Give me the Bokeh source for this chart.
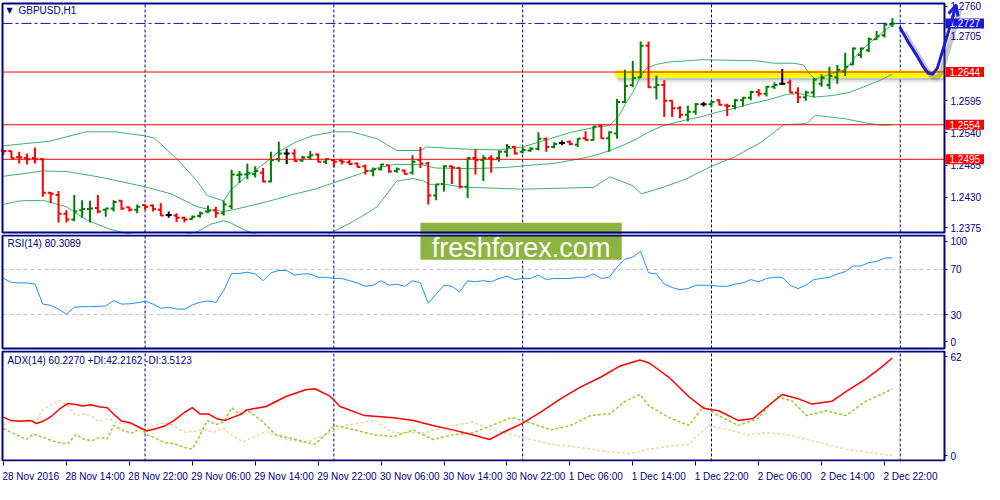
from bokeh.plotting import figure
from bokeh.models import (Range1d, FixedTicker, Label, Arrow, OpenHead,
                          LinearAxis, ColumnDataSource)
from bokeh.layouts import column
from bokeh.embed import file_html
from bokeh.resources import INLINE

# ---------------- data ----------------
OPEN = [1.2510, 1.2509, 1.2499, 1.2497, 1.2497, 1.2495, 1.2438, 1.2434, 1.2402, 1.2392,
        1.2408, 1.2410, 1.2412, 1.2409, 1.2411, 1.2424, 1.2413, 1.2409, 1.2417, 1.2416,
        1.2409, 1.2400, 1.2399, 1.2395, 1.2393, 1.2398, 1.2406, 1.2408, 1.2403, 1.2415,
        1.2468, 1.2469, 1.2470, 1.2472, 1.2457, 1.2495, 1.2505, 1.2505, 1.2493, 1.2499,
        1.2503, 1.2491, 1.2494, 1.2493, 1.2490, 1.2488, 1.2483, 1.2475, 1.2478, 1.2485,
        1.2475, 1.2476, 1.2472, 1.2494, 1.2488, 1.2433, 1.2453, 1.2483, 1.2480, 1.2448,
        1.2497, 1.2494, 1.2497, 1.2497, 1.2508, 1.2516, 1.2508, 1.2510, 1.2513, 1.2530,
        1.2516, 1.2523, 1.2525, 1.2520, 1.2531, 1.2528, 1.2552, 1.2531, 1.2539, 1.2593,
        1.2622, 1.2635, 1.2689, 1.2618, 1.2622, 1.2595, 1.2582, 1.2571, 1.2576, 1.2589,
        1.2589, 1.2596, 1.2587, 1.2586, 1.2596, 1.2600, 1.2610, 1.2607, 1.2619, 1.2624,
        1.2626, 1.2609, 1.2601, 1.2609, 1.2624, 1.2622, 1.2635, 1.2645, 1.2657, 1.2673,
        1.2681, 1.2700, 1.2707, 1.2725]
HIGH = [1.2511, 1.2510, 1.2508, 1.2505, 1.2515, 1.2497, 1.2439, 1.2441, 1.2408, 1.2434,
        1.2425, 1.2424, 1.2434, 1.2411, 1.2425, 1.2425, 1.2414, 1.2418, 1.2418, 1.2418,
        1.2420, 1.2406, 1.2403, 1.2397, 1.2399, 1.2406, 1.2416, 1.2414, 1.2424, 1.2477,
        1.2475, 1.2488, 1.2483, 1.2480, 1.2508, 1.2525, 1.2513, 1.2512, 1.2501, 1.2509,
        1.2505, 1.2497, 1.2495, 1.2495, 1.2495, 1.2489, 1.2486, 1.2481, 1.2487, 1.2486,
        1.2481, 1.2477, 1.2502, 1.2516, 1.2491, 1.2453, 1.2485, 1.2484, 1.2481, 1.2498,
        1.2512, 1.2502, 1.2502, 1.2510, 1.2521, 1.2518, 1.2516, 1.2516, 1.2541, 1.2532,
        1.2524, 1.2527, 1.2527, 1.2531, 1.2543, 1.2552, 1.2554, 1.2543, 1.2598, 1.2648,
        1.2663, 1.2696, 1.2696, 1.2638, 1.2630, 1.2596, 1.2586, 1.2587, 1.2591, 1.2593,
        1.2595, 1.2597, 1.2590, 1.2598, 1.2601, 1.2612, 1.2615, 1.2620, 1.2626, 1.2649,
        1.2631, 1.2618, 1.2612, 1.2634, 1.2640, 1.2653, 1.2656, 1.2677, 1.2686, 1.2686,
        1.2703, 1.2714, 1.2728, 1.2736]
LOW = [1.2503, 1.2497, 1.2488, 1.2486, 1.2488, 1.2431, 1.2420, 1.2387, 1.2387, 1.2389,
       1.2395, 1.2387, 1.2403, 1.2397, 1.2406, 1.2409, 1.2406, 1.2403, 1.2409, 1.2406,
       1.2398, 1.2395, 1.2388, 1.2387, 1.2392, 1.2395, 1.2403, 1.2395, 1.2399, 1.2410,
       1.2455, 1.2461, 1.2464, 1.2456, 1.2456, 1.2491, 1.2487, 1.2491, 1.2491, 1.2494,
       1.2490, 1.2487, 1.2481, 1.2486, 1.2485, 1.2481, 1.2469, 1.2466, 1.2476, 1.2472,
       1.2472, 1.2469, 1.2469, 1.2480, 1.2418, 1.2425, 1.2440, 1.2453, 1.2445, 1.2429,
       1.2469, 1.2458, 1.2472, 1.2491, 1.2499, 1.2503, 1.2505, 1.2508, 1.2510, 1.2508,
       1.2514, 1.2519, 1.2519, 1.2516, 1.2527, 1.2527, 1.2530, 1.2508, 1.2530, 1.2591,
       1.2618, 1.2634, 1.2617, 1.2597, 1.2567, 1.2567, 1.2565, 1.2560, 1.2571, 1.2585,
       1.2585, 1.2587, 1.2569, 1.2580, 1.2585, 1.2596, 1.2602, 1.2602, 1.2615, 1.2622,
       1.2608, 1.2591, 1.2595, 1.2601, 1.2619, 1.2615, 1.2624, 1.2637, 1.2656, 1.2668,
       1.2678, 1.2699, 1.2703, 1.2721]
CLOSE = [1.2509, 1.2497, 1.2498, 1.2495, 1.2495, 1.2438, 1.2436, 1.2402, 1.2392, 1.2406,
         1.2410, 1.2411, 1.2406, 1.2411, 1.2422, 1.2411, 1.2409, 1.2414, 1.2414, 1.2410,
         1.2399, 1.2400, 1.2395, 1.2392, 1.2397, 1.2403, 1.2407, 1.2403, 1.2418, 1.2469,
         1.2469, 1.2472, 1.2475, 1.2457, 1.2494, 1.2505, 1.2505, 1.2492, 1.2498, 1.2502,
         1.2491, 1.2495, 1.2491, 1.2491, 1.2487, 1.2482, 1.2475, 1.2478, 1.2486, 1.2474,
         1.2478, 1.2470, 1.2491, 1.2488, 1.2433, 1.2452, 1.2483, 1.2481, 1.2448, 1.2497,
         1.2494, 1.2497, 1.2495, 1.2508, 1.2516, 1.2505, 1.2511, 1.2513, 1.2530, 1.2516,
         1.2521, 1.2523, 1.2521, 1.2530, 1.2528, 1.2551, 1.2531, 1.2541, 1.2593, 1.2620,
         1.2634, 1.2689, 1.2618, 1.2622, 1.2595, 1.2582, 1.2571, 1.2576, 1.2589, 1.2589,
         1.2593, 1.2588, 1.2586, 1.2596, 1.2600, 1.2610, 1.2607, 1.2619, 1.2622, 1.2624,
         1.2609, 1.2601, 1.2609, 1.2631, 1.2634, 1.2637, 1.2648, 1.2653, 1.2684, 1.2684,
         1.2700, 1.2705, 1.2725, 1.2727]

# Bollinger bands (bar position, price)
BB_UP_K = [0, 5.9, 10.5, 14.2, 18, 19.2, 22.1, 24.6, 25.9, 28, 28.8, 30.9, 33, 35, 37.1,
           39.2, 42, 44.2, 47.5, 50, 53, 53.8, 56.3, 59.6, 63, 65.9, 68, 72.1, 75, 77.1,
           78.2, 79.2, 80, 80.9, 81.7, 83, 84.6, 88.8, 92.9, 95.9, 97.9, 100.5, 101.7,
           102.5, 103.2, 105.5, 107.1, 108.8, 110.9, 113]
BB_UP = [1.2518, 1.2526, 1.2542, 1.2542, 1.2535, 1.2531, 1.2495, 1.2458, 1.2433, 1.2424,
         1.2441, 1.2466, 1.2486, 1.2508, 1.2524, 1.2535, 1.2542, 1.2542, 1.2530, 1.2510,
         1.2510, 1.2516, 1.2514, 1.2512, 1.2511, 1.2516, 1.2524, 1.2541, 1.2549, 1.2553,
         1.2568, 1.2593, 1.2609, 1.2634, 1.2650, 1.2657, 1.2661, 1.2665, 1.2664, 1.2663,
         1.2659, 1.2659, 1.2656, 1.2640, 1.2632, 1.2642, 1.2649, 1.2678, 1.2703, 1.2725]
BB_MID_K = [0, 5, 8, 12.1, 16.3, 18, 21.3, 24.6, 26.3, 28, 29.6, 33, 35, 37.1, 39.6, 42,
            45.5, 47.5, 49.6, 53, 55, 59.6, 63.8, 67.1, 70, 72.9, 75, 77.1, 78.8, 80.5,
            82.1, 83.8, 86.7, 88.8, 90.9, 92.9, 95, 97.1, 99.6, 101.3, 103, 105.5, 107.5,
            109.6, 111.3, 113]
BB_MID = [1.2466, 1.2475, 1.2474, 1.2465, 1.2453, 1.2448, 1.2436, 1.2414, 1.2409, 1.2406,
          1.2410, 1.2421, 1.2428, 1.2436, 1.2444, 1.2455, 1.2471, 1.2480, 1.2486, 1.2486,
          1.2480, 1.2479, 1.2481, 1.2485, 1.2488, 1.2495, 1.2501, 1.2510, 1.2519, 1.2530,
          1.2542, 1.2552, 1.2562, 1.2568, 1.2576, 1.2582, 1.2590, 1.2596, 1.2606, 1.2607,
          1.2601, 1.2604, 1.2609, 1.2620, 1.2629, 1.2640]
BB_LO_K = [0, 2.1, 5, 8, 10.5, 13.4, 15.5, 20, 24.6, 26.3, 28, 28.8, 30.5, 32.1, 36, 40,
           41.7, 43.8, 45.5, 47.5, 50, 52.1, 53.4, 54.2, 55.9, 58, 59.6, 65.9, 75, 77.1,
           80, 81.1, 83.8, 86.7, 90, 92.9, 96.3, 99.2, 102.1, 103.2, 104.6, 107.1, 109.6,
           111.7, 113]
BB_LO = [1.2418, 1.2424, 1.2425, 1.2414, 1.2392, 1.2376, 1.2369, 1.2358, 1.2371, 1.2384,
         1.2390, 1.2387, 1.2375, 1.2367, 1.2355, 1.2360, 1.2370, 1.2384, 1.2397, 1.2414,
         1.2458, 1.2462, 1.2458, 1.2452, 1.2453, 1.2448, 1.2447, 1.2444, 1.2447, 1.2465,
         1.2450, 1.2436, 1.2447, 1.2461, 1.2483, 1.2499, 1.2524, 1.2554, 1.2556, 1.2570,
         1.2568, 1.2564, 1.2557, 1.2553, 1.2554]

RSI = [62.1, 58.4, 58, 58, 57, 39.3, 38.2, 34.8, 30.5, 36.5,
       37, 37, 37.3, 37.6, 42.5, 39.3, 39.5, 40.5, 41.9, 39.3,
       35.6, 36.5, 35, 34.8, 38.5, 41, 42.1, 40.7, 51.3, 66.4,
       66.4, 67.5, 66, 60, 67, 69, 69, 65, 66, 66,
       63, 63, 62, 62, 60, 58, 55, 56, 60, 56,
       57, 55, 60, 58, 40, 48, 56, 55, 50, 60,
       59, 60, 59, 62, 64, 61, 62, 62, 65, 61,
       62, 62, 62, 63, 63, 66, 62, 63, 72, 79,
       81, 86, 67, 66, 57, 54, 52, 53, 56, 56,
       56, 55, 55, 57, 58, 61, 59, 62, 63, 63,
       56, 53, 56, 61, 62, 63, 66, 68, 73, 73,
       76, 77, 80, 80.3]

ADX_K = [0, 0.9, 2.1, 3.4, 4.2, 5, 6.1, 7.1, 8.2, 9.2, 10, 11.1, 12.1, 13.2, 14, 15, 16.1,
         17.1, 18.2, 19.2, 20.5, 21.7, 23, 24, 25, 26.1, 27.1, 28.2, 29.2, 30.3, 30.9, 33.4,
         35.9, 38.4, 39.6, 41.5, 42.8, 45.9, 49.6, 52.1, 54.6, 57.1, 59.6, 61.8, 63.4, 65.9,
         68.4, 70.9, 73.4, 75.9, 78.4, 80.9, 82.1, 84.6, 87.1, 89, 90.9, 93.4, 95.3, 97.1,
         99, 100.9, 102.8, 105.3, 107.1, 109.6, 111.5, 113]
ADX_V = [25.8, 23.9, 23.4, 23.9, 22.1, 23.4, 26.3, 30.4, 33.8, 33.2, 32.3, 33, 31.9, 31.3,
         27.6, 23.5, 22.6, 20.2, 17.8, 18.9, 20.6, 23.9, 28.5, 31.3, 27.6, 27.6, 24.9, 23.9,
         25.8, 27.6, 30, 32, 37.8, 41.7, 42.3, 38, 32, 26.7, 25.5, 23.9, 21, 18.4, 15.6, 12.8,
         16.7, 22, 29, 36.7, 43.4, 49, 55.6, 59, 57.3, 49, 37.8, 31, 29.5, 23.9, 25, 32, 39,
         36.7, 33.4, 35, 40.6, 47.9, 54.5, 60.2]
PDI_K = [0, 0.9, 2.1, 2.9, 3.8, 5, 6.3, 7.5, 8.2, 9.2, 10.3, 11.3, 12.3, 13.2, 14, 15, 16.3,
         17.5, 18.2, 19.2, 20.5, 21.7, 23, 24, 24.6, 25.9, 27.1, 28, 29, 30, 30.9, 32.75,
         34.6, 37.1, 39.6, 42.1, 44.6, 47.1, 49.6, 52.1, 54.6, 57.1, 59.6, 62.1, 64.6, 67.1,
         69.6, 72.1, 74.6, 77.1, 79, 80.9, 82.1, 84.6, 87.1, 89, 90.9, 93.4, 95.9, 98.4,
         100.3, 102.1, 104.6, 107.1, 109.6, 111.5, 113]
PDI_V = [19.3, 17.1, 14.6, 12.8, 16, 14.1, 11.9, 10.4, 10.4, 15.6, 12.8, 12.2, 14.1, 13.2,
         21.1, 18.4, 16.5, 19.3, 15.6, 13.7, 11, 10.4, 8.2, 7.2, 11.9, 23.9, 21.5, 23, 31.3,
         27.6, 30, 24, 15.6, 12.8, 10, 21, 18.4, 15.6, 14.5, 18.4, 12.8, 15.6, 16.7, 21, 25.6,
         22.3, 18.4, 21, 26.7, 27.8, 35, 39, 32.3, 25.6, 21, 32, 26.7, 21, 25, 37.8, 35, 26.7,
         29.5, 26.7, 35, 39, 42.2]
MDI_K = [0, 1.3, 3, 4.2, 5, 6.1, 7.1, 8.2, 9.2, 10.3, 11.1, 12.1, 13.4, 14.6, 15.9, 17.1,
         18.2, 19.2, 20.5, 21.7, 23, 24.2, 25.5, 26.7, 28, 29.2, 30.5, 33.4, 35.9, 38.4,
         40.9, 43.4, 47.1, 49.6, 53.4, 57.1, 59.6, 62.1, 64.6, 67.1, 69.6, 72.1, 74.6, 77.1,
         79.6, 82.1, 84.6, 87.1, 89.6, 92.1, 94.6, 97.1, 99.6, 102.1, 104.6, 107.1, 109.6,
         112.1, 113]
MDI_V = [21.1, 23.9, 23, 23.9, 30.4, 33.2, 35.6, 32.3, 26.7, 27.6, 26.7, 23.4, 24.9, 22.1,
         22.1, 20.2, 18.4, 21.1, 22.6, 20.6, 17.1, 17.5, 18.4, 17.1, 19.3, 14.6, 11.5, 17.5,
         12.8, 11.1, 15.6, 21, 23.9, 16.7, 16.7, 21, 22.8, 18.4, 15.6, 12.8, 10, 8.9, 7.2,
         5.6, 4.5, 7.2, 8.9, 10, 21, 18.4, 15.6, 16.7, 15.6, 12.8, 10, 7.2, 5.6, 3.9, 3.5]

LEVELS = [1.2644, 1.2554, 1.2495]
CURRENT = 1.2727
ZONE_K = 77.75
ZONE_LO, ZONE_HI = 1.26341, 1.26465
DAY_BREAKS = [18, 42, 66, 90, 114]
X_TICKS = [0, 8, 16, 24, 32, 40, 48, 56, 64, 72, 80, 88, 96, 104, 112]
X_LABELS = ["28 Nov 2016", "28 Nov 14:00", "28 Nov 22:00", "29 Nov 06:00", "29 Nov 14:00",
            "29 Nov 22:00", "30 Nov 06:00", "30 Nov 14:00", "30 Nov 22:00", "1 Dec 06:00",
            "1 Dec 14:00", "1 Dec 22:00", "2 Dec 06:00", "2 Dec 14:00", "2 Dec 22:00"]
PRICE_TICKS = [1.2375, 1.2430, 1.2485, 1.2540, 1.2595, 1.2705, 1.2760]
RSI_TICKS = [0, 30, 70, 100]
ADX_TICKS = [0, 62]
ARROW_K = [114, 115.04, 116.09, 116.91, 117.54, 118.16, 118.71, 119.21, 119.84, 120.46, 121.09]
ARROW_P = [1.27194, 1.26946, 1.26725, 1.26534, 1.26423, 1.26407, 1.26506, 1.26725,
           1.27001, 1.27276, 1.27578]

# ---------------- layout / style ----------------
NAVY = "#000080"
FONT = "Liberation Sans"
W = 984
K0, K1 = -0.125, 119.625          # plot-area edges (bar units)
PPB = 942 / (K1 - K0)             # pixels per bar
XR0 = K0 - 2 / PPB
xr = Range1d(XR0, XR0 + W / PPB)

P_LO, P_HI = 1.2370, 1.2761
PPU1 = 229 / (P_HI - P_LO)
PPU2 = 113 / 100.0
PPU3 = 111 / 64.0
WM_COL = "#8DB440"
WM_L, WM_R = 53.0, 78.6


def make_fig(height, y0, y1, bottom=0):
    p = figure(width=W, height=height, x_range=xr, y_range=Range1d(y0, y1),
               output_backend="svg", toolbar_location=None,
               x_axis_location=None, y_axis_location="right",
               min_border_left=0, min_border_right=0,
               min_border_top=0, min_border_bottom=bottom)
    p.outline_line_color = None
    p.xgrid.visible = False
    p.ygrid.visible = False
    ax = p.yaxis[0]
    ax.fixed_location = K1
    ax.axis_line_color = None
    ax.major_tick_in = 0
    ax.major_tick_out = 3
    ax.major_tick_line_color = NAVY
    ax.minor_tick_line_color = None
    ax.major_label_text_font = FONT
    ax.major_label_text_font_size = "10px"
    ax.major_label_text_color = NAVY
    ax.major_label_standoff = 3
    return p


def grid(p, lo, hi):
    n = len(DAY_BREAKS)
    p.segment(x0=DAY_BREAKS, x1=DAY_BREAKS, y0=[lo] * n, y1=[hi] * n,
              line_color=NAVY, line_dash="3 2", line_width=1)


def border(p, lo, hi):
    p.quad(left=K0, right=K1, bottom=lo, top=hi, fill_alpha=0,
           line_color=NAVY, line_width=2)


def ticks(ax, shown, placed):
    ax.ticker = FixedTicker(ticks=placed)
    ax.major_label_overrides = {pl: lab for pl, lab in zip(placed, shown)}


def title(p, text, y, dy, dx, size="10px", font=FONT, align="left"):
    p.add_layout(Label(x=K0, y=y, x_offset=dx, y_offset=dy, text=text,
                       text_font=font, text_font_size=size, text_color=NAVY,
                       text_baseline="middle", text_align=align))


def price_tag(p, lv, colour):
    p.add_layout(Label(x=K1, y=lv, x_offset=1, text=f"{lv:.4f}", text_color="white",
                       text_font=FONT, text_font_size="10px", text_baseline="middle",
                       text_align="left", background_fill_color=colour,
                       padding=dict(left=4, right=4, top=1, bottom=1)))


# ---------- main price panel ----------
Y1_LO, Y1_HI = P_LO - 2 / PPU1, P_HI + 3 / PPU1
p1 = make_fig(234, Y1_LO, Y1_HI)
# labels at the panel edges are nudged inward a little, as the terminal does
placed = list(PRICE_TICKS)
placed[0] = PRICE_TICKS[0] + 2 / PPU1
placed[-1] = PRICE_TICKS[-1] - 2 / PPU1
ticks(p1.yaxis[0], [f"{t:.4f}" for t in PRICE_TICKS], placed)

grid(p1, P_LO, P_HI)

# yellow zone with shadow
p1.quad(left=ZONE_K + 0.3, right=K1, top=ZONE_LO, bottom=ZONE_LO - 2.5 / PPU1,
        fill_color="#7a7a7a", fill_alpha=0.45, line_color=None)
p1.quad(left=ZONE_K + 0.3, right=K1, top=ZONE_LO - 2.5 / PPU1, bottom=ZONE_LO - 5 / PPU1,
        fill_color="#9a9a9a", fill_alpha=0.22, line_color=None)
p1.quad(left=ZONE_K, right=K1, top=ZONE_HI, bottom=ZONE_LO,
        fill_color="#FFFF00", line_color=None)

# Bollinger bands
for bk, bv in ((BB_UP_K, BB_UP), (BB_MID_K, BB_MID), (BB_LO_K, BB_LO)):
    p1.line(bk, bv, line_color="#3CB371", line_width=1)

# OHLC bars
ks = list(range(len(OPEN)))
cols = ["#008000" if c > o else ("#FF0000" if c < o else "#000000") for o, c in zip(OPEN, CLOSE)]
TICK = 3.0 / PPB
src = ColumnDataSource(dict(k=ks, o=OPEN, h=HIGH, l=LOW, c=CLOSE, col=cols,
                            kl=[k - TICK for k in ks], kr=[k + TICK for k in ks]))
p1.segment(x0="k", y0="l", x1="k", y1="h", source=src, line_color="col", line_width=2)
p1.segment(x0="kl", y0="o", x1="k", y1="o", source=src, line_color="col", line_width=2)
p1.segment(x0="k", y0="c", x1="kr", y1="c", source=src, line_color="col", line_width=2)

# horizontal levels
nl = len(LEVELS)
p1.segment(x0=[K0] * nl, x1=[K1] * nl, y0=LEVELS, y1=LEVELS, line_color="#FF0000", line_width=1)
p1.segment(x0=[K0], x1=[K1], y0=[CURRENT], y1=[CURRENT], line_color="#1010C0",
           line_dash="10 3 3 3", line_width=1)

# watermark (upper part)
p1.quad(left=WM_L, right=WM_R, bottom=Y1_LO - 1, top=P_LO + 9.7 / PPU1,
        fill_color=WM_COL, line_color=None)

border(p1, P_LO, P_HI)

# price tags on the axis
for lv in LEVELS:
    price_tag(p1, lv, "#FF0000")
price_tag(p1, CURRENT, "#1818D8")

# hand-drawn blue arrow with shadow
p1.line([k + 4 / PPB for k in ARROW_K], [v - 4 / PPU1 for v in ARROW_P],
        line_color="#606060", line_alpha=0.35, line_width=5, line_join="round")
p1.line(ARROW_K, ARROW_P, line_color="#1E1ED8", line_width=3, line_join="round",
        line_cap="round")
p1.add_layout(Arrow(x_start=ARROW_K[-2], y_start=ARROW_P[-2], x_end=ARROW_K[-1],
                    y_end=ARROW_P[-1], line_color="#1E1ED8", line_width=3,
                    end=OpenHead(size=10, line_color="#1E1ED8", line_width=3)))

title(p1, "\u25bc", Y1_HI, -10, 7, size="8px", font="DejaVu Sans", align="center")
title(p1, "GBPUSD,H1", Y1_HI, -10, 16)

# ---------- RSI panel ----------
Y2_LO, Y2_HI = -2 / PPU2, 100 + 1 / PPU2
p2 = make_fig(116, Y2_LO, Y2_HI)
ticks(p2.yaxis[0], [str(t) for t in RSI_TICKS], [6, 30, 70, 95])
grid(p2, 0, 100)
p2.segment(x0=[K0, K0], x1=[K1, K1], y0=[70, 30], y1=[70, 30], line_color="#C0C0C0",
           line_dash="4 3", line_width=1)
p2.line(ks, RSI, line_color="#1E90FF", line_width=1)
p2.quad(left=WM_L, right=WM_R, bottom=100 - 24.2 / PPU2, top=Y2_HI + 1,
        fill_color=WM_COL, line_color=None)
border(p2, 0, 100)
title(p2, "RSI(14) 80.3089", Y2_HI, -9, 5)
p2.add_layout(Label(x=(WM_L + WM_R) / 2, y=Y2_HI, y_offset=-13, text="freshforex.com",
                    text_align="center", text_baseline="alphabetic", text_color="white",
                    text_font=FONT, text_font_size="27px"))

# ---------- ADX panel ----------
Y3_LO, Y3_HI = 0, 64 + 1 / PPU3
p3 = make_fig(134, Y3_LO, Y3_HI, bottom=22)
ticks(p3.yaxis[0], [str(t) for t in ADX_TICKS], [3.3, 60.9])
grid(p3, 0, 64)
p3.line(MDI_K, MDI_V, line_color="#F5D5A8", line_width=1.5, line_dash="3 2")
p3.line(PDI_K, PDI_V, line_color="#9ACD32", line_width=1.5, line_dash="3 2")
p3.line(ADX_K, ADX_V, line_color="#FF0000", line_width=1.5)
border(p3, 1 / PPU3, 64)
title(p3, "ADX(14) 60.2270 +DI:42.2162 -DI:3.5123", Y3_HI, -10, 5)

CW = {" ": .278, ":": .278, "N": .722, "o": .556, "v": .5, "D": .722, "e": .556, "c": .5}


def text_w(s):
    return sum(CW.get(ch, .556) for ch in s) * 10


label_pos = [round(k + (text_w(s) / 2 - 1) / PPB, 4) for k, s in zip(X_TICKS, X_LABELS)]
xax = LinearAxis(ticker=FixedTicker(ticks=label_pos, minor_ticks=X_TICKS),
                 major_label_overrides=dict(zip(label_pos, X_LABELS)))
xax.axis_line_color = None
xax.major_tick_line_color = None
xax.major_tick_out = 0
xax.major_tick_in = 0
xax.minor_tick_line_color = NAVY
xax.minor_tick_out = 4
xax.minor_tick_in = 0
xax.major_label_standoff = 5
xax.major_label_text_font = FONT
xax.major_label_text_font_size = "10px"
xax.major_label_text_color = NAVY
p3.add_layout(xax, "below")

layout = column(p1, p2, p3, spacing=0)
open("out.html", "w").write(file_html(layout, INLINE))
